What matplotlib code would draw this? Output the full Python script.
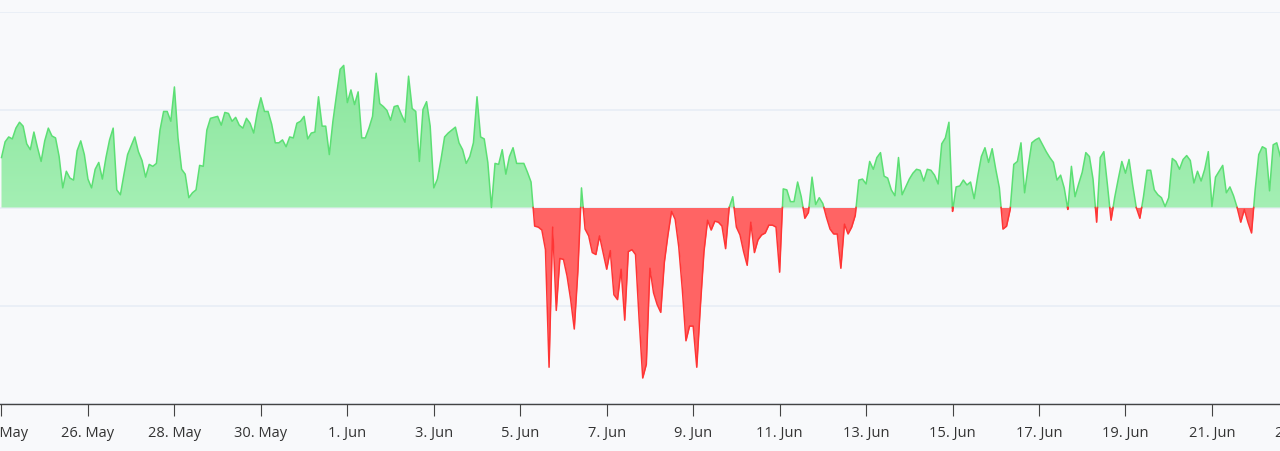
import matplotlib
matplotlib.use("Agg")
import matplotlib.pyplot as plt
import matplotlib.dates as mdates
import matplotlib.transforms as mtransforms
import numpy as np
import pandas as pd
from matplotlib.path import Path
from matplotlib.colors import LinearSegmentedColormap

plt.rcParams['font.family'] = ['Open Sans', 'DejaVu Sans']

# 2-hourly net values, starting 24 May 00:00
part1 = [0.51, 0.67, 0.72, 0.70, 0.81, 0.87, 0.83, 0.65, 0.59, 0.77,
         0.61, 0.47, 0.68, 0.81, 0.73, 0.71, 0.52, 0.20, 0.37, 0.30,
         0.28, 0.58, 0.68, 0.54, 0.29, 0.20, 0.39, 0.46, 0.29, 0.51,
         0.69, 0.81, 0.18, 0.13, 0.34, 0.54, 0.63, 0.72, 0.57, 0.48,
         0.31, 0.44, 0.42, 0.45, 0.79, 0.98, 0.98, 0.88, 1.23, 0.71,
         0.39, 0.34, 0.10, 0.15, 0.18, 0.43, 0.42, 0.79, 0.91, 0.92]
part2 = [0.93, 0.84, 0.97, 0.96, 0.88, 0.92, 0.84, 0.81, 0.91, 0.86,
         0.76, 0.97, 1.12, 0.98, 0.98, 0.85, 0.66, 0.66, 0.69, 0.62,
         0.72, 0.71, 0.86, 0.88, 0.93, 0.70, 0.76, 0.77, 1.13, 0.83,
         0.83, 0.54, 0.88, 1.15, 1.41, 1.45, 1.07, 1.20, 1.05, 1.18,
         0.71, 0.71, 0.81, 0.93, 1.37, 1.06, 1.03, 0.99, 0.89, 1.03,
         1.04, 0.95, 0.87, 1.34, 1.01, 0.98, 0.47]
part3 = [1.00, 1.08, 0.83, 0.20, 0.29, 0.49, 0.72, 0.76, 0.79, 0.82,
         0.66, 0.59, 0.45, 0.52, 0.66, 1.13, 0.72, 0.70, 0.46, 0.00,
         0.45, 0.44, 0.59, 0.34, 0.52, 0.61, 0.45, 0.45, 0.45, 0.36,
         0.26, -0.19, -0.20, -0.23, -0.43, -1.63, -0.20, -1.05, -0.52, -0.53,
         -0.70, -0.94, -1.24, -0.65, 0.20, -0.22, -0.29, -0.46, -0.48, -0.29,
         -0.46, -0.63, -0.44, -0.89, -0.94, -0.63, -1.15, -0.45, -0.43, -0.48]
part4 = [-1.14, -1.74, -1.60, -0.62, -0.87, -0.99, -1.07, -0.56, -0.28, -0.04,
         -0.12, -0.40, -0.84, -1.36, -1.21, -1.21, -1.63, -1.01, -0.45, -0.13,
         -0.23, -0.14, -0.15, -0.19, -0.42, 0.00, 0.11, -0.20, -0.28, -0.45,
         -0.59, -0.15, -0.46, -0.33, -0.28, -0.26, -0.18, -0.18, -0.20, -0.66,
         0.19, 0.18, 0.06, 0.06, 0.26, 0.11, -0.11, -0.05, 0.31, 0.03,
         0.10, 0.04, -0.10, -0.22, -0.27, -0.27, -0.62, -0.17]
part5 = [-0.27, -0.20, -0.08, 0.28, 0.29, 0.24, 0.47, 0.39, 0.51, 0.56,
         0.32, 0.30, 0.18, 0.12, 0.51, 0.13, 0.21, 0.29, 0.35, 0.39,
         0.38, 0.27, 0.39, 0.38, 0.33, 0.24, 0.65, 0.71, 0.87, -0.04,
         0.21, 0.22, 0.28, 0.23, 0.26, 0.09, 0.32, 0.52, 0.61, 0.46,
         0.60, 0.39, 0.20, -0.22, -0.19, -0.02, 0.44, 0.47, 0.66, 0.15,
         0.42, 0.66, 0.69, 0.71, 0.64, 0.57, 0.51, 0.46, 0.28]
part6 = [0.33, 0.20, -0.02, 0.42, 0.11, 0.24, 0.36, 0.56, 0.52, 0.29,
         -0.15, 0.51, 0.57, 0.23, -0.13, 0.10, 0.29, 0.47, 0.35, 0.49,
         0.23, 0.00, -0.11, 0.11, 0.38, 0.38, 0.18, 0.13, 0.10, 0.01,
         0.10, 0.50, 0.47, 0.39, 0.49, 0.53, 0.48, 0.25, 0.37, 0.27,
         0.39, 0.57, 0.01, 0.31, 0.37, 0.43, 0.15, 0.21, 0.12, 0.00,
         -0.15, -0.02, -0.15, -0.26, 0.18, 0.54, 0.62, 0.60, 0.17, 0.64,
         0.66, 0.52]

start = "2023-05-24 00:00"
tick_dates = pd.date_range("2023-05-24", periods=16, freq="2D")
tick_labels = [f"{d.day}. {d:%b}" for d in tick_dates]

values = np.array(part1 + part2 + part3 + part4 + part5 + part6)
times = pd.date_range(start, periods=len(values), freq="2h")
x = mdates.date2num(times)

# insert zero crossings so colours switch exactly at the threshold
xs, ys = [x[0]], [values[0]]
for i in range(1, len(x)):
    y0, y1 = values[i - 1], values[i]
    if y0 * y1 < 0:
        t = y0 / (y0 - y1)
        xs.append(x[i - 1] + t * (x[i] - x[i - 1]))
        ys.append(0.0)
    xs.append(x[i])
    ys.append(y1)
xs, ys = np.array(xs), np.array(ys)
pos = np.clip(ys, 0, None)
neg = np.clip(ys, None, 0)

bg = "#f8f9fb"
fig = plt.figure(figsize=(12.8, 4.52), dpi=100, facecolor=bg)
ax = fig.add_axes([0, 47.5 / 452, 1, 392 / 452], facecolor=bg)

# green area with a soft vertical gradient
shape = ax.fill_between(xs, 0, pos, color="none", lw=0)
clip = Path.make_compound_path(*shape.get_paths())
cmap = LinearSegmentedColormap.from_list("g", ["#a4efb4", "#8be69d"])
grad = np.linspace(0, 1, 256).reshape(-1, 1)
im = ax.imshow(grad, extent=[xs[0], xs[-1], 0, pos.max()], origin="lower",
               aspect="auto", cmap=cmap, zorder=2)
im.set_clip_path(clip, ax.transData)

ax.fill_between(xs, 0, neg, color="#ff6464", lw=0, zorder=2)
ax.plot(xs, np.where(ys >= 0, ys, np.nan), color="#5cdf74", lw=1.1, zorder=3)
ax.plot(xs, np.where(ys <= 0, ys, np.nan), color="#ff3535", lw=1.1, zorder=3)

ax.set_yticks([-2, -1, 0, 1, 2])
ax.yaxis.grid(True, color="#e8eef6", lw=1.2)
ax.set_axisbelow(True)
ax.tick_params(axis="y", left=False, labelleft=False)

ax.set_xticks(mdates.date2num(tick_dates))
ax.set_xticklabels(tick_labels)
ax.tick_params(axis="x", direction="out", length=8.5, width=0.8, color="#444444",
               labelsize=10.5, labelcolor="#333333", pad=7)

# limits after the ticks, so the 23 Jun tick does not widen the view
ax.set_xlim(x[0] - 0.83 / 24, x[0] + 709.8 / 24)
ax.set_ylim(-2, 2)

# the last label sits past the right edge and is only partly visible
last = ax.get_xticklabels()[-1]
trans = mtransforms.blended_transform_factory(ax.transData, ax.transAxes)
ax.text(mdates.date2num(tick_dates[-1]), 0, tick_labels[-1], transform=trans,
        ha="center", va="top", fontsize=10.5, color="#333333", clip_on=False,
        transform_rotates_text=False)
ax.texts[-1].set_transform(trans + mtransforms.ScaledTranslation(0, -(8.5 + 7) / 72,
                                                                   fig.dpi_scale_trans))

for side in ["top", "left", "right"]:
    ax.spines[side].set_visible(False)
ax.spines["bottom"].set_color("#444444")
ax.spines["bottom"].set_linewidth(1.0)

fig.savefig("out.png", dpi=100, facecolor=bg)
